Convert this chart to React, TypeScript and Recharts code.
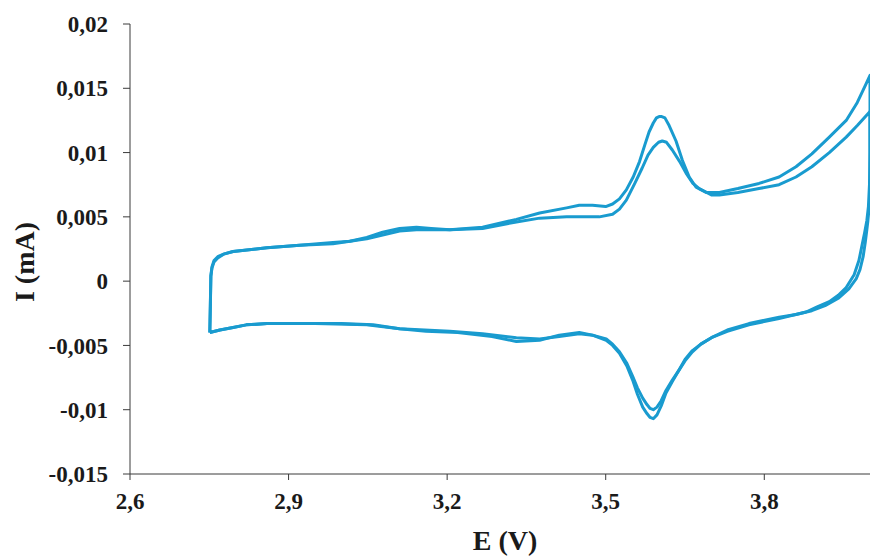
import React from 'react';
import { LineChart, Line, XAxis, YAxis } from 'recharts';

// Cyclic voltammogram, two cycles (E in V, I in mA). Rows of 10 values.
const cycle1E = [
  2.751, 2.752, 2.753, 2.755, 2.759, 2.766, 2.777, 2.795, 2.859, 2.921,
  2.984, 3.016, 3.048, 3.078, 3.110, 3.142, 3.170, 3.205, 3.267, 3.331,
  3.375, 3.426, 3.450, 3.475, 3.500, 3.513, 3.526, 3.539, 3.552, 3.564,
  3.574, 3.582, 3.590, 3.596, 3.601, 3.606, 3.612, 3.620, 3.633, 3.645,
  3.658, 3.671, 3.690, 3.715, 3.750, 3.790, 3.828, 3.860, 3.890, 3.923,
  3.955, 3.976, 3.991, 4.000,
  4.000, 4.000, 3.999, 3.996, 3.994, 3.991, 3.987, 3.981, 3.974, 3.960,
  3.941, 3.915, 3.890, 3.860, 3.828, 3.771, 3.730, 3.700, 3.680, 3.664,
  3.650, 3.639, 3.626, 3.614, 3.605, 3.597, 3.590, 3.584, 3.578, 3.570,
  3.560, 3.551, 3.540, 3.526, 3.513, 3.501, 3.475, 3.450, 3.412, 3.375,
  3.331, 3.285, 3.220, 3.160, 3.110, 3.060, 3.000, 2.921, 2.859, 2.820,
  2.795, 2.770, 2.751,
];
const cycle1I = [
  -0.0040, -0.0020, 0.0004, 0.0011, 0.0016, 0.0019, 0.0021, 0.0023, 0.0026, 0.0028,
  0.0030, 0.0031, 0.0034, 0.0038, 0.0041, 0.0042, 0.0041, 0.0040, 0.0042, 0.0048,
  0.0053, 0.0057, 0.0059, 0.0059, 0.0058, 0.0060, 0.0064, 0.0071, 0.0081, 0.0093,
  0.0106, 0.0116, 0.0123, 0.0127, 0.0128, 0.0128, 0.0127, 0.0121, 0.0109, 0.0094,
  0.0081, 0.0073, 0.0069, 0.0069, 0.0072, 0.0076, 0.0081, 0.0089, 0.0099, 0.0112,
  0.0125, 0.0139, 0.0152, 0.0160,
  0.0120, 0.0080, 0.0060, 0.0047, 0.0040, 0.0030, 0.0019, 0.0009, 0.0002, -0.0006,
  -0.0013, -0.0019, -0.0023, -0.0026, -0.0028, -0.0033, -0.0038, -0.0044, -0.0049, -0.0054,
  -0.0061, -0.0069, -0.0078, -0.0087, -0.0097, -0.0104, -0.0107, -0.0106, -0.0103, -0.0098,
  -0.0088, -0.0077, -0.0066, -0.0056, -0.0050, -0.0046, -0.0042, -0.0040, -0.0042, -0.0046,
  -0.0047, -0.0043, -0.0040, -0.0039, -0.0037, -0.0034, -0.0033, -0.0033, -0.0033, -0.0034,
  -0.0036, -0.0038, -0.0040,
];
const cycle2E = [
  2.751, 2.753, 2.755, 2.759, 2.766, 2.777, 2.795, 2.859, 2.921, 2.984,
  3.048, 3.110, 3.142, 3.205, 3.267, 3.331, 3.375, 3.426, 3.488, 3.513,
  3.526, 3.539, 3.555, 3.569, 3.580, 3.590, 3.600, 3.607, 3.615, 3.626,
  3.640, 3.652, 3.665, 3.677, 3.700, 3.715, 3.750, 3.790, 3.828, 3.860,
  3.890, 3.923, 3.955, 3.976, 4.000,
  4.000, 3.999, 3.997, 3.994, 3.990, 3.985, 3.979, 3.970, 3.955, 3.940,
  3.923, 3.900, 3.879, 3.828, 3.771, 3.730, 3.700, 3.680, 3.664, 3.650,
  3.639, 3.626, 3.614, 3.605, 3.597, 3.590, 3.584, 3.578, 3.570, 3.560,
  3.551, 3.540, 3.526, 3.513, 3.501, 3.475, 3.450, 3.412, 3.375, 3.331,
  3.267, 3.205, 3.110, 3.048, 2.950, 2.860, 2.820, 2.795, 2.770, 2.751,
];
const cycle2I = [
  -0.0040, 0.0004, 0.0010, 0.0015, 0.0018, 0.0021, 0.0023, 0.0026, 0.0028, 0.0029,
  0.0033, 0.0039, 0.0040, 0.0040, 0.0041, 0.0046, 0.0049, 0.0050, 0.0050, 0.0052,
  0.0056, 0.0063, 0.0076, 0.0088, 0.0098, 0.0104, 0.0108, 0.0109, 0.0108, 0.0102,
  0.0093, 0.0084, 0.0076, 0.0072, 0.0067, 0.0067, 0.0069, 0.0072, 0.0075, 0.0081,
  0.0089, 0.0100, 0.0112, 0.0121, 0.0132,
  0.0100, 0.0075, 0.0058, 0.0047, 0.0038, 0.0028, 0.0016, 0.0005, -0.0005, -0.0011,
  -0.0016, -0.0020, -0.0024, -0.0029, -0.0034, -0.0039, -0.0044, -0.0049, -0.0055, -0.0062,
  -0.0069, -0.0077, -0.0085, -0.0093, -0.0098, -0.0100, -0.0099, -0.0096, -0.0091, -0.0083,
  -0.0074, -0.0064, -0.0055, -0.0049, -0.0045, -0.0042, -0.0041, -0.0043, -0.0045, -0.0044,
  -0.0041, -0.0039, -0.0037, -0.0034, -0.0033, -0.0033, -0.0034, -0.0036, -0.0038, -0.0040,
];

const xTicks = [2.6, 2.9, 3.2, 3.5, 3.8];
const yTicks = [-0.015, -0.01, -0.005, 0, 0.005, 0.01, 0.015, 0.02];

const toRows = (es: number[], is: number[]) => es.map((E, k) => ({ E, I: is[k] }));
const cycle1 = toRows(cycle1E, cycle1I);
const cycle2 = toRows(cycle2E, cycle2I);

const comma = (v: number) => String(v).replace('.', ',');

const FONT = '"Liberation Serif", "Times New Roman", serif';
const LINE_COLOR = '#199bcf';
const AXIS_COLOR = '#3a3a3a';

const tickStyle = { fontFamily: FONT, fontSize: 23, fontWeight: 700, fill: '#1a1a1a' };

export default function App() {
  return (
    <div style={{ position: 'absolute', left: 0, top: 0, width: 872, height: 556, background: '#fff' }}>
      <LineChart width={872} height={556} margin={{ top: 24, right: 2, bottom: 0, left: 0 }}>
        <XAxis
          type="number"
          dataKey="E"
          domain={[2.6, 4.0]}
          ticks={xTicks}
          tickFormatter={comma}
          allowDataOverflow
          height={82}
          stroke={AXIS_COLOR}
          tickSize={6}
          tickMargin={13}
          tick={tickStyle}
          label={{
            content: () => (
              <text x={505} y={540} textAnchor="middle" dominantBaseline="central"
                style={{ fontFamily: FONT, fontSize: 28, fontWeight: 700, fill: '#1a1a1a' }}>
                E (V)
              </text>
            ),
          }}
        />
        <YAxis
          type="number"
          dataKey="I"
          domain={[-0.015, 0.02]}
          ticks={yTicks}
          tickFormatter={comma}
          allowDataOverflow
          width={130}
          stroke={AXIS_COLOR}
          tickSize={7}
          tickMargin={15}
          tick={tickStyle}
          label={{
            content: () => (
              <text x={24} y={262} textAnchor="middle" dominantBaseline="central"
                transform="rotate(-90, 24, 262)"
                style={{ fontFamily: FONT, fontSize: 28, fontWeight: 700, fill: '#1a1a1a' }}>
                I (mA)
              </text>
            ),
          }}
        />
        <Line data={cycle1} dataKey="I" type="linear" stroke={LINE_COLOR} strokeWidth={3}
          strokeLinejoin="round" dot={false} activeDot={false} isAnimationActive={false} />
        <Line data={cycle2} dataKey="I" type="linear" stroke={LINE_COLOR} strokeWidth={3}
          strokeLinejoin="round" dot={false} activeDot={false} isAnimationActive={false} />
      </LineChart>
    </div>
  );
}
